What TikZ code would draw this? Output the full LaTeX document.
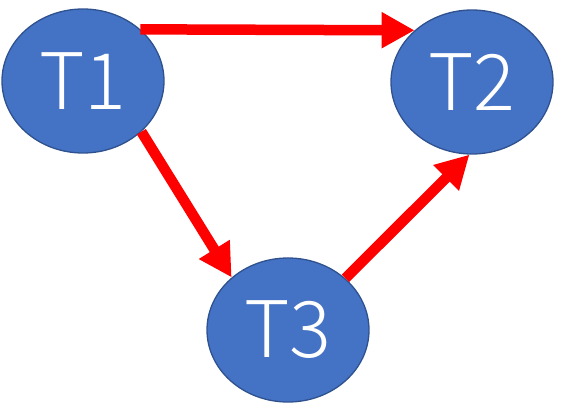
\documentclass[tikz,border=0pt]{standalone}
\usepackage{fontspec}
\newfontfamily\labelfont{Noto Sans CJK SC Light}
\usetikzlibrary{arrows.meta,shapes.geometric}
\definecolor{taskfill}{HTML}{4472C4}
\definecolor{taskedge}{HTML}{2F528F}
\definecolor{linkred}{HTML}{FF0000}
\begin{document}
\begin{tikzpicture}[x=1pt,y=-1pt,
  task/.style={ellipse, draw=taskedge, line width=1.3pt, fill=taskfill,
    minimum width=162pt, minimum height=144pt, inner sep=0pt,
    text=white, font=\labelfont\fontsize{78}{80}\selectfont},
  link/.style={draw=linkred, line width=10.5pt,
    -{Triangle[length=33pt,width=34pt]}}]
  \useasboundingbox (0,0) rectangle (562,407);
  % the three tasks
  \node[task] (T1) at (83,81)  {T1};
  \node[task] (T2) at (472,82) {T2};
  \node[task] (T3) at (288,330) {T3};
  % dependencies between them
  \draw[link] (T1.42)  -- (T2.138);
  \draw[link] (T1.-41) -- (T3.137);
  \draw[link] (T3.42)  -- (T2.-92);
\end{tikzpicture}
\end{document}
